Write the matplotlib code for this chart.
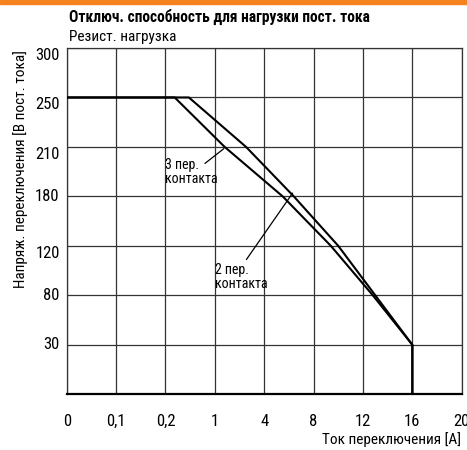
import numpy as np
import matplotlib
matplotlib.use('Agg')
import matplotlib.pyplot as plt
from matplotlib import font_manager

# narrow font like the datasheet
names = {f.name for f in font_manager.fontManager.ttflist}
FONT = 'Roboto Condensed' if 'Roboto Condensed' in names else 'DejaVu Sans'
plt.rcParams['font.family'] = [FONT, 'DejaVu Sans']

# axis tick values (unevenly spaced, drawn at equal steps)
x_ticks = [0, 0.1, 0.2, 1, 4, 8, 12, 16, 20]
x_labels = ['0', '0,1', '0,2', '1', '4', '8', '12', '16', '20']
y_ticks = [0, 30, 80, 120, 180, 210, 250, 300]
y_labels = ['', '30', '80', '120', '180', '210', '250', '300']

# curves: current [A], voltage [V]
i_3contacts = [0, 0.35, 1.6, 5.5, 9.4, 12.8, 16, 16]
u_3contacts = [250, 250, 210, 180, 120, 80, 30, 0]
i_2contacts = [0, 0.58, 2.9, 6.4, 10.0, 13.0, 16, 16]
u_2contacts = [250, 250, 210, 180, 120, 80, 30, 0]

xpos = np.arange(len(x_ticks))
ypos = np.arange(len(y_ticks))


def fx(v):
    return np.interp(v, x_ticks, xpos)


def fx_inv(p):
    return np.interp(p, xpos, x_ticks)


def fy(v):
    return np.interp(v, y_ticks, ypos)


def fy_inv(p):
    return np.interp(p, ypos, y_ticks)


fig = plt.figure(figsize=(4.67, 4.5), dpi=100)
ax = fig.add_axes([0.1428, 0.1238, 0.8459, 0.7695])
ax.set_xscale('function', functions=(fx, fx_inv))
ax.set_yscale('function', functions=(fy, fy_inv))
ax.set_xlim(0, 20)
ax.set_ylim(0, 300)

ax.set_xticks(x_ticks)
ax.set_xticklabels(x_labels, fontsize=12)
ax.set_yticks(y_ticks)
ax.set_yticklabels(y_labels, fontsize=12)
ax.xaxis.set_minor_locator(matplotlib.ticker.NullLocator())
ax.yaxis.set_minor_locator(matplotlib.ticker.NullLocator())
ax.tick_params(length=0, pad=14, axis='x')
ax.tick_params(length=0, pad=5, axis='y')
for lab, v in zip(ax.get_yticklabels(), y_labels):
    if v in ('300', '250', '210', '120'):
        lab.set_va('top')
    else:
        lab.set_va('center')

ax.grid(True, color='#333333', linewidth=0.9)
for s in ax.spines.values():
    s.set_color('#333333')
    s.set_linewidth(0.9)
ax.spines['bottom'].set_color('black')
ax.spines['bottom'].set_linewidth(1.6)

ax.plot(i_3contacts, u_3contacts, color='black', lw=1.5, zorder=5)
ax.plot(i_2contacts, u_2contacts, color='black', lw=1.5, zorder=5)

# labels with leader lines
ax.text(0.2, 203, '3 пер.\nконтакта', fontsize=10, ha='left', va='top', linespacing=1.0)
ax.annotate('', xy=(1.55, 209), xytext=(0.84, 200),
            arrowprops=dict(arrowstyle='-', color='black', lw=0.9, shrinkA=0, shrinkB=0))
ax.text(1.0, 106, '2 пер.\nконтакта', fontsize=10, ha='left', va='top', linespacing=1.0)
ax.annotate('', xy=(6.3, 182), xytext=(2.92, 109),
            arrowprops=dict(arrowstyle='-', color='black', lw=0.9, shrinkA=0, shrinkB=0))

# header
fig.patches.append(plt.Rectangle((0, 1 - 4 / 450), 1, 4 / 450, transform=fig.transFigure,
                                 color='#f5821f', zorder=0))
fig.text(69 / 467, 1 - 17 / 450, 'Отключ. способность для нагрузки пост. тока',
         fontsize=11.2, fontweight='bold', ha='left', va='center')
fig.text(69 / 467, 1 - 37 / 450, 'Резист. нагрузка', fontsize=11, ha='left', va='center')

fig.text(20.5 / 467, 1 - 50 / 450, 'Напряж. переключения [В пост. тока]', fontsize=11,
         rotation=90, ha='center', va='top')
fig.text(461 / 467, 1 - 440 / 450, 'Ток переключения [A]', fontsize=11, ha='right', va='center')

fig.savefig('out.png', dpi=100)
